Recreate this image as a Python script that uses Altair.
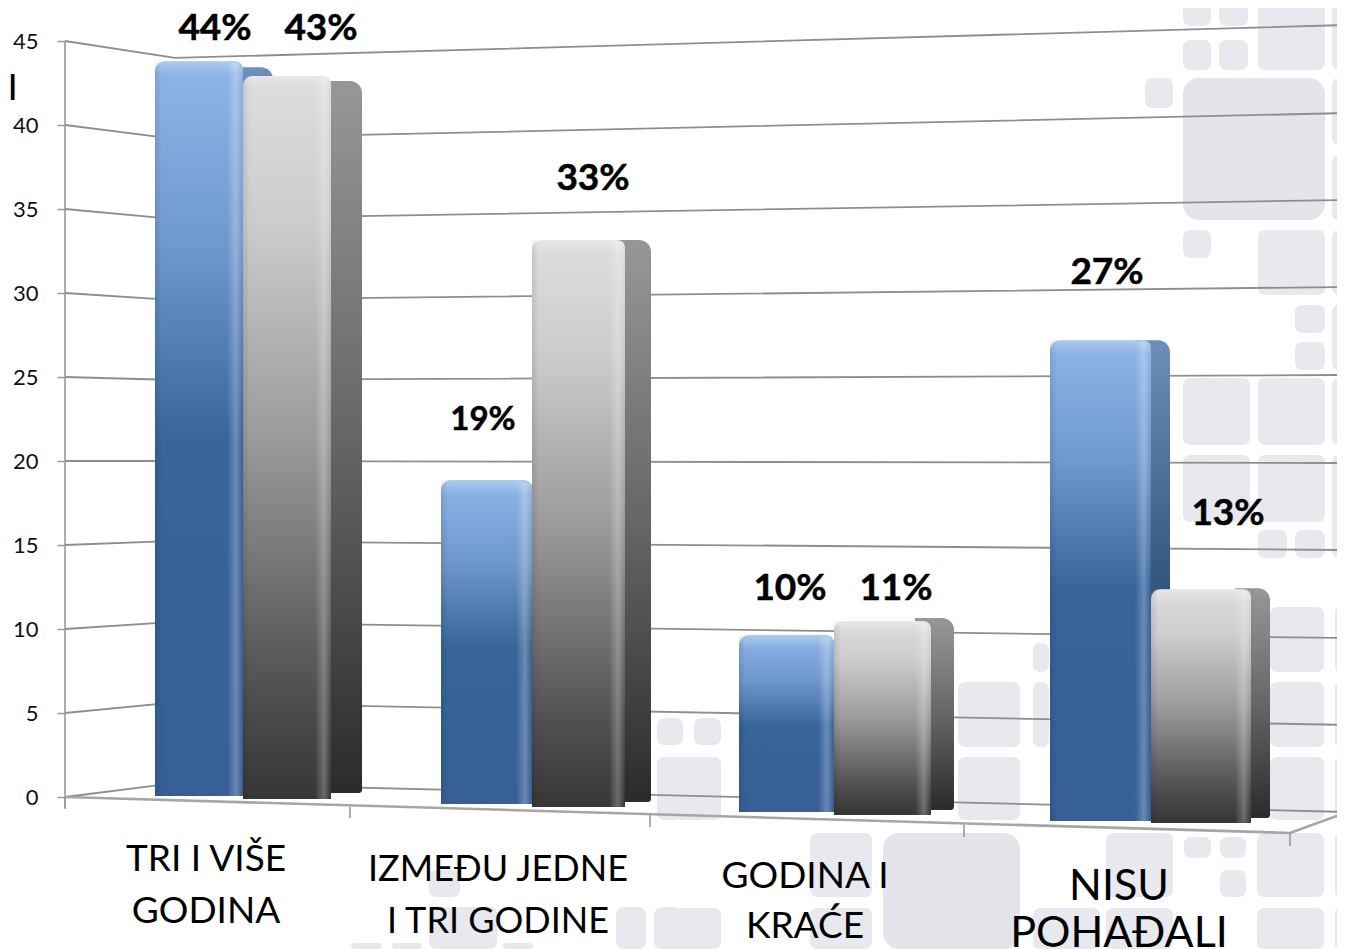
import altair as alt
import pandas as pd

# ---- chart values
blue_values = [44, 19, 10, 27]
gray_values = [43, 33, 11, 13]

# perspective: floor height under each bar and value stretch
blue_floor = [0.06, -0.42, -0.89, -1.43]
gray_floor = [-0.12, -0.60, -1.07, -1.55]
blue_stretch = [0.994, 1.015, 1.054, 1.060]
gray_stretch = [1.001, 1.023, 1.050, 1.070]
blue_side_drop = [0.36, 0.30, 0.30, 0.0]
gray_side_drop = [0.30, 0.0, -0.18, -0.06]

blue_left = [155, 441, 739, 1050]
blue_right = [243, 532, 834, 1151]
blue_side = [273, 562, 864, 1170]
gray_left = [243, 532, 834, 1151]
gray_right = [331, 625, 931, 1251]
gray_side = [362, 651, 954, 1270]
side_floor = [0.24, -0.30, -0.77, -1.25]

blue_label_x = [215, 483, 790, 1107]
gray_label_x = [321, 593, 896, 1228]
blue_label_lift = [1.27, 3.00, 2.10, 3.35]
gray_label_lift = [2.16, 3.00, 1.27, 3.83]
blue_label_size = [37, 33, 37, 37]
gray_label_size = [37, 37, 37, 37]

tick_values = [0, 5, 10, 15, 20, 25, 30, 35, 40, 45]
wall_corner = [0.83, 5.63, 10.42, 15.24, 20.0, 24.82, 29.58, 34.4, 39.17, 43.99]
wall_right = [-0.89, 4.29, 9.46, 14.70, 19.88, 25.12, 30.36, 35.54, 40.71, 45.95]
wall_x = [65, 175, 1345]

floor_x = [65, 1290, 1345]
floor_y = [0.0, -2.14, -0.95]
tick_x = [65, 350, 650, 964, 1290]
tick_top = [0.0, -0.60, -1.07, -1.67, -2.14]
tick_bottom = [-0.70, -1.25, -1.79, -2.38, -2.92]

cat_x = [206, 206, 498, 498, 805, 805, 1119, 1119]
cat_y = [-4.43, -7.50, -5.02, -8.10, -5.42, -8.40, -6.13, -8.95]
cat_text = ["TRI I VIŠE", "GODINA", "IZMEĐU JEDNE", "I TRI GODINE", "GODINA I", "KRAĆE", "NISU", "POHAĐALI"]
cat_size = [37, 37, 36, 36, 37, 37, 43, 43]

tiles_small = [
    (1183,1211,3,26),(1219,1248,3,26),(1183,1211,40,70),(1219,1248,40,70),(1258,1325,3,70),(1332,1345,3,70),
    (1145,1173,78,108),(1332,1345,78,145),(1332,1345,155,220),(1183,1211,230,258),(1258,1325,230,295),
    (1332,1345,230,295),(1295,1325,305,333),(1295,1325,342,370),(1332,1345,305,370),(1183,1250,378,445),
    (1258,1325,378,445),(1332,1345,378,445),(1183,1250,455,522),(1258,1325,455,522),(1258,1287,530,558),
    (1295,1325,530,558),(1332,1345,455,558),(1270,1324,607,672),(1335,1345,607,672),(1270,1324,682,747),
    (1335,1345,682,747),(1270,1324,757,820),(1335,1345,757,820),(657,683,718,745),(694,721,718,745),
    (657,721,757,820),(958,1020,682,747),(958,1020,757,820),(1033,1049,643,672),(1033,1049,682,747),
    (810,872,833,897),(1106,1173,833,897),(1184,1211,837,858),(1220,1246,837,858),(1220,1246,870,897),
    (1257,1324,833,897),(1335,1345,833,897),(654,721,908,949),(810,872,908,949),(1033,1100,908,949),
    (1106,1173,908,949),(1257,1324,908,949),(1335,1345,908,949),(429,460,870,897),(429,497,907,949),
    (616,646,907,949),(655,680,907,949),(351,382,943,949),(392,422,943,949),(503,533,943,949),
]
tiles_big = [(1183,1325,78,220),(883,1020,833,949)]

ZERO_ROW = 797.0
ROW_PER_UNIT = 16.8
def units(row):
    return (ZERO_ROW - row) / ROW_PER_UNIT

# ---- tables
X = alt.Scale(domain=[8, 1337], nice=False, zero=False)
Y = alt.Scale(domain=[units(949), units(8)], nice=False, zero=False)

y_axis = alt.Axis(values=tick_values, offset=-57, domain=False, grid=False, title=None,
                  tickColor="#999999", tickWidth=1.5, tickSize=8, labelPadding=19,
                  labelFont="Lato", labelFontSize=22, labelColor="#111111", labelOverlap=False)

def xe(f):
    return alt.X(f"{f}:Q", scale=X, axis=None)
def ye(f):
    return alt.Y(f"{f}:Q", scale=Y, axis=y_axis)

def bars(vals, floors, stretch, left, right, side, drop):
    rows = []
    for v, f, s, l, r, sd, d in zip(vals, floors, stretch, left, right, side, drop):
        top = f + v * s
        rows.append(dict(value=v, floor=f, top=top, x0=l, x1=r, side=sd, side_top=top - d,
                         hl=r - 16, hl2=r - 1, hl_top=top - 0.1, bev=top - 0.8, edge=l + 7))
    return pd.DataFrame(rows)

blue = bars(blue_values, blue_floor, blue_stretch, blue_left, blue_right, blue_side, blue_side_drop)
gray = bars(gray_values, gray_floor, gray_stretch, gray_left, gray_right, gray_side, gray_side_drop)
blue["side_floor"] = side_floor
gray["side_floor"] = side_floor

grid_rows = []
for t, c, r in zip(tick_values, wall_corner, wall_right):
    for x, y in zip(wall_x, [t, c, r]):
        grid_rows.append(dict(line=t, x=x, y=y))
grid = pd.DataFrame(grid_rows)
floor_df = pd.DataFrame({"x": floor_x, "y": floor_y})
ticks_df = pd.DataFrame({"x": tick_x, "y": tick_top, "y2": tick_bottom})
tiles_df = pd.DataFrame(tiles_small, columns=["x", "x2", "r", "r2"])
tiles_df["y"] = units(tiles_df["r"])
tiles_df["y2"] = units(tiles_df["r2"])
big_df = pd.DataFrame(tiles_big, columns=["x", "x2", "r", "r2"])
big_df["y"] = units(big_df["r"])
big_df["y2"] = units(big_df["r2"])
cats_df = pd.DataFrame({"x": cat_x, "y": cat_y, "t": cat_text, "s": cat_size})
labels_df = pd.DataFrame({
    "x": blue_label_x + gray_label_x,
    "y": list(blue["top"] + blue_label_lift) + list(gray["top"] + gray_label_lift),
    "t": [f"{v}%" for v in blue_values + gray_values],
    "s": blue_label_size + gray_label_size,
})
cut_df = pd.DataFrame({"x": [18], "y": [units(100)], "t": ["NI"]})

# ---- gradients
def vgrad(stops):
    return alt.Gradient(gradient="linear", x1=0, x2=0, y1=0, y2=1,
                        stops=[alt.GradientStop(offset=o, color=c) for o, c in stops])
def hgrad(stops):
    return alt.Gradient(gradient="linear", x1=0, x2=1, y1=0, y2=0,
                        stops=[alt.GradientStop(offset=o, color=c) for o, c in stops])

blue_front = vgrad([(0, "#8fb6e8"), (0.25, "#6f98cd"), (0.52, "#38649a"), (1, "#365f96")])
gray_front = vgrad([(0, "#dedede"), (0.2, "#cccccc"), (0.5, "#9b9b9b"), (0.85, "#505050"), (1, "#363636")])
blue_sidef = vgrad([(0, "#6f8fbb"), (0.5, "#34567f"), (1, "#1d3d66")])
gray_sidef = vgrad([(0, "#979797"), (0.5, "#666666"), (1, "#2b2b2b")])
shine = hgrad([(0, "rgba(255,255,255,0)"), (0.6, "rgba(255,255,255,0.26)"), (1, "rgba(255,255,255,0.02)")])
bevel = vgrad([(0, "rgba(255,255,255,0.28)"), (1, "rgba(255,255,255,0)")])
edge = hgrad([(0, "rgba(0,0,0,0.10)"), (1, "rgba(0,0,0,0)")])

def xy(x="x", x2="x2", y="y", y2="y2"):
    return dict(x=xe(x), x2=alt.X2(x2), y=ye(y), y2=alt.Y2(y2))

layers = [
    alt.Chart(tiles_df).mark_rect(fill="#e8e9ee", cornerRadius=7).encode(**xy()),
    alt.Chart(big_df).mark_rect(fill="#e4e5ea", cornerRadius=16).encode(**xy()),
    alt.Chart(grid).mark_line(color="#8e8e8e", strokeWidth=1.8).encode(x=xe("x"), y=ye("y"), detail="line:N"),
    alt.Chart(pd.DataFrame({"x": [65], "y": [45], "y2": [-0.7]})).mark_rule(color="#999999", strokeWidth=1.6).encode(
        x=xe("x"), y=ye("y"), y2="y2"),
    alt.Chart(floor_df).mark_line(color="#a6a6a6", strokeWidth=2.6).encode(x=xe("x"), y=ye("y")),
    alt.Chart(ticks_df).mark_rule(color="#999999", strokeWidth=1.6).encode(x=xe("x"), y=ye("y"), y2="y2"),
]

for df, front, sidef in ((blue, blue_front, blue_sidef), (gray, gray_front, gray_sidef)):
    layers += [
        alt.Chart(df).mark_rect(fill=sidef, cornerRadiusTopRight=12, cornerRadiusBottomRight=3).encode(
            **xy("hl", "side", "side_top", "side_floor")),
        alt.Chart(df).mark_rect(fill=front, cornerRadiusTopLeft=10, cornerRadiusTopRight=8).encode(
            **xy("x0", "x1", "top", "floor")),
        alt.Chart(df).mark_rect(fill=edge, cornerRadiusTopLeft=10).encode(**xy("x0", "edge", "top", "floor")),
        alt.Chart(df).mark_rect(fill=bevel, cornerRadiusTopLeft=10, cornerRadiusTopRight=8).encode(
            **xy("x0", "x1", "top", "bev")),
        alt.Chart(df).mark_rect(fill=shine, cornerRadiusTopRight=8).encode(**xy("hl", "hl2", "hl_top", "floor")),
    ]

text_xy = dict(x=xe("x"), y=ye("y"))
layers += [
    alt.Chart(labels_df).mark_text(font="Lato", fontWeight="bold", color="#000000", stroke="#000000",
                                   strokeWidth=0.5, align="center", baseline="alphabetic").encode(
        text="t:N", size=alt.Size("s:Q", scale=None, legend=None), **text_xy),
    alt.Chart(cats_df).mark_text(font="Lato", color="#000000", align="center", baseline="alphabetic").encode(
        text="t:N", size=alt.Size("s:Q", scale=None, legend=None), **text_xy),
    alt.Chart(cut_df).mark_text(font="Lato", color="#000000", align="right", baseline="alphabetic", fontSize=37).encode(
        text="t:N", **text_xy),
]

chart = alt.layer(*layers).properties(
    width=1329, height=941, padding=0, autosize=alt.AutoSizeParams(type="none"), background="#ffffff"
).configure_view(stroke=None)

chart.save("out.html", embed_options={"renderer": "svg", "actions": False})
